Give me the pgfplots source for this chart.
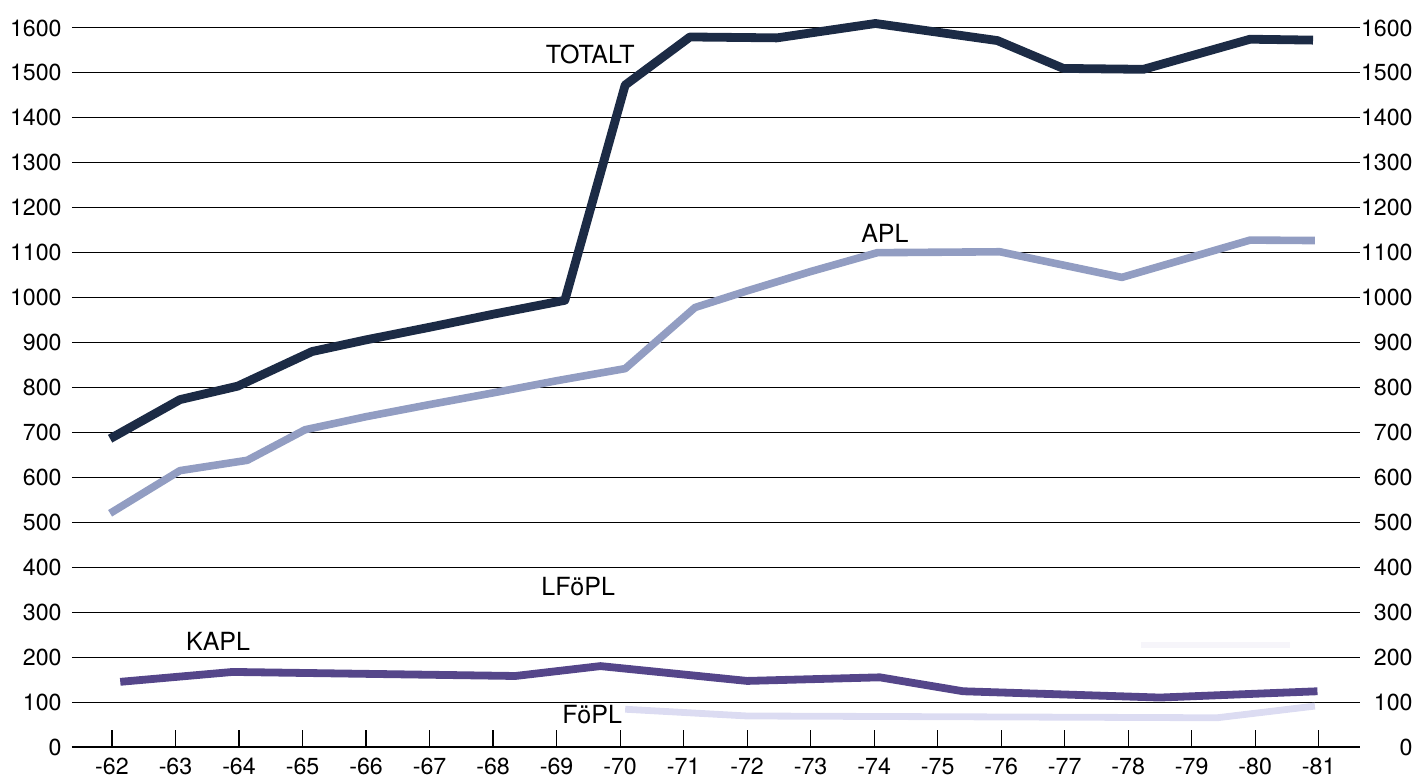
\documentclass[border=0pt]{standalone}
\usepackage{pgfplots}
\pgfplotsset{compat=1.18}
\usepackage{fontspec}
\setmainfont{TeX Gyre Heros}
\definecolor{ctot}{HTML}{1C2B45}
\definecolor{capl}{HTML}{929DC2}
\definecolor{ckapl}{HTML}{55468A}
\definecolor{cfopl}{HTML}{DCDCF2}
\definecolor{clfopl}{HTML}{F6F5FA}
\begin{document}
\begin{tikzpicture}
\pgfplotsset{common/.style={
  scale only axis, width=644pt, height=359.5pt,
  xmin=61.37, xmax=81.65, ymin=0, ymax=1600,
  ytick={0,100,...,1600},
  /pgf/number format/1000 sep={},
  /pgf/number format/assume math mode=true,
  tick label style={font=\fontsize{11.6}{13}\selectfont, black},
}}
\begin{axis}[common,
  axis x line*=bottom, axis y line*=left,
  y axis line style={draw=none},
  x axis line style={line width=0.75pt, -},
  tick align=inside,
  xtick={62,...,81},
  xticklabels={-62,-63,-64,-65,-66,-67,-68,-69,-70,-71,-72,-73,-74,-75,-76,-77,-78,-79,-80,-81},
  x tick style={line width=0.6pt, black},
  major tick length=8.5pt,
  y tick style={draw=none},
  ymajorgrids, grid style={black, line width=0.5pt},
  yticklabel style={anchor=east, inner sep=0pt, xshift=-5pt},
  xticklabel style={anchor=north, inner sep=0pt, yshift=-5.5pt},
  clip=false]
\addplot[clfopl, line width=3pt] coordinates {(78.2,228) (80.55,228)};
\addplot[cfopl, line width=3.4pt, line join=round] coordinates {
 (70.08,84) (72.0,69) (79.4,65) (80.94,91)};
\addplot[ckapl, line width=3.9pt, line join=round] coordinates {
 (62.13,145) (63.9,167) (68.35,158) (69.69,180) (72.0,147) (74.09,155) (75.4,124) (78.5,110) (80.98,124)};
\addplot[capl, line width=3.8pt, line join=round] coordinates {
 (61.97,520) (63.07,615) (64.13,638) (65.04,706) (66,735) (67,762) (68,788) (69,815) (70.08,842)
 (71.18,978) (72,1015) (73,1058) (74.05,1100) (75.98,1102) (77.9,1045) (79.92,1128) (80.94,1127)};
\addplot[ctot, line width=4.4pt, line join=round] coordinates {
 (61.97,686) (63.07,773) (63.98,803) (65.15,880) (66,906) (67,934) (68,963) (69.13,994)
 (70.08,1473) (71.1,1580) (72.47,1578) (74.02,1610) (75.94,1572) (76.98,1510) (78.24,1508) (79.92,1575) (80.91,1573)};
\node[font=\fontsize{12.5}{14}\selectfont] at (axis cs:69.53,1542) {TOTALT};
\node[font=\fontsize{12.5}{14}\selectfont] at (axis cs:74.17,1144) {APL};
\node[font=\fontsize{12.5}{14}\selectfont] at (axis cs:69.34,358) {LFöPL};
\node[font=\fontsize{12.5}{14}\selectfont] at (axis cs:63.67,236) {KAPL};
\node[font=\fontsize{12.5}{14}\selectfont] at (axis cs:69.56,73) {FöPL};
\end{axis}
\begin{axis}[common,
  axis x line=none, axis y line*=right,
  y axis line style={draw=none},
  y tick style={draw=none},
  yticklabel style={anchor=east, inner sep=0pt, xshift=26.5pt}]
\end{axis}
\pgfresetboundingbox
\path[use as bounding box] (-36pt,-16pt) rectangle (673.5pt,373.5pt);
\end{tikzpicture}
\end{document}
